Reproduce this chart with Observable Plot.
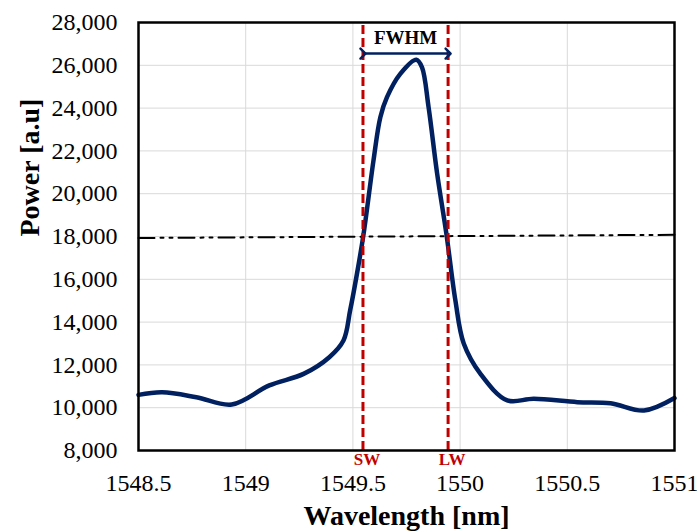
<!DOCTYPE html>
<html>
<head>
<meta charset="utf-8">
<script src="https://cdn.jsdelivr.net/npm/d3@7"></script>
<script src="https://cdn.jsdelivr.net/npm/@observablehq/plot@0.6"></script>
<style>
  html, body { margin: 0; padding: 0; background: #fff; }
</style>
</head>
<body>
<div id="chart"></div>
<script>
// Spectrum
const wavelength = [1548.50, 1548.61, 1548.77, 1548.935, 1549.11, 1549.27, 1549.39, 1549.456, 1549.487, 1549.519, 1549.550, 1549.596, 1549.628, 1549.659, 1549.721, 1549.796, 1549.822, 1549.853, 1549.893, 1549.936, 1549.978, 1550.017, 1550.095, 1550.220, 1550.344, 1550.547, 1550.702, 1550.858, 1551.0];
const power = [10600, 10720, 10490, 10150, 11040, 11580, 12360, 13140, 14540, 16260, 18130, 21550, 23575, 24510, 25600, 26260, 25910, 24040, 20930, 18130, 15010, 13000, 11580, 10340, 10420, 10260, 10210, 9870, 10450];

// Half-maximum reference line (slightly sloped)
const halfX = [1548.5, 1551];
const halfY = [17930, 18080];

// Short / long wavelength markers
const markerNames = ["SW", "LW"];
const markerX = [1549.547, 1549.944];
const arrowY = 26550;
const fwhmLabelY = 27300;

const xTicks = [1548.5, 1549, 1549.5, 1550, 1550.5, 1551];
const yTicks = [8000, 10000, 12000, 14000, 16000, 18000, 20000, 22000, 24000, 26000, 28000];

const spectrum = wavelength.map((w, i) => ({x: w, y: power[i]}));
const half = halfX.map((w, i) => ({x: w, y: halfY[i]}));
const markers = markerNames.map((n, i) => ({name: n, x: markerX[i]}));

const navy = "#002060";
const red = "#C00000";

const chart = Plot.plot({
  width: 697,
  height: 531,
  marginLeft: 138,
  marginRight: 23,
  marginTop: 22,
  marginBottom: 81,
  style: {fontFamily: "'Liberation Serif', 'Times New Roman', serif", fontSize: "24px", color: "black", background: "white"},
  x: {domain: [1548.5, 1551], ticks: xTicks, tickFormat: d => String(d)},
  y: {domain: [8000, 28000], ticks: yTicks, tickFormat: d3.format(",")},
  marks: [
    Plot.gridX(xTicks, {stroke: "#d9d9d9", strokeOpacity: 1, strokeWidth: 1}),
    Plot.gridY(yTicks, {stroke: "#d9d9d9", strokeOpacity: 1, strokeWidth: 1}),
    Plot.axisX(xTicks, {tickSize: 0, tickPadding: 23, label: null, tickFormat: d => String(d), fontSize: 24}),
    Plot.axisY(yTicks, {tickSize: 0, tickPadding: 21, label: null, tickFormat: d3.format(","), fontSize: 24}),
    Plot.line(half, {x: "x", y: "y", stroke: "black", strokeWidth: 2, strokeDasharray: "16,6,3,6,3,6"}),
    Plot.line(spectrum, {x: "x", y: "y", stroke: navy, strokeWidth: 4.5, curve: "catmull-rom"}),
    Plot.ruleX(markers, {x: "x", y1: 8000, y2: 28000, stroke: red, strokeWidth: 3, strokeDasharray: "9,4"}),
    Plot.link([{x1: markerX[0], x2: markerX[1], y: arrowY}], {x1: "x1", x2: "x2", y1: "y", y2: "y", stroke: navy, strokeWidth: 2.5, markerStart: "arrow", markerEnd: "arrow"}),
    Plot.text(["FWHM"], {x: (markerX[0] + markerX[1]) / 2, y: fwhmLabelY, text: d => d, fontWeight: "bold", fontSize: 19, fill: "black", lineAnchor: "middle"}),
    Plot.text(markers, {x: "x", frameAnchor: "bottom", text: "name", dx: 4, dy: 2, lineAnchor: "top", fill: red, fontWeight: "bold", fontSize: 17}),
    Plot.frame({stroke: "black", strokeWidth: 2.5}),
    Plot.text(["Wavelength [nm]"], {frameAnchor: "bottom", text: d => d, dy: 66, lineAnchor: "middle", fontWeight: "bold", fontSize: 28, fill: "black"}),
    Plot.text(["Power [a.u]"], {frameAnchor: "left", text: d => d, dx: -108, rotate: -90, lineAnchor: "middle", fontWeight: "bold", fontSize: 28, fill: "black"})
  ]
});
document.getElementById("chart").appendChild(chart);
</script>
</body>
</html>
